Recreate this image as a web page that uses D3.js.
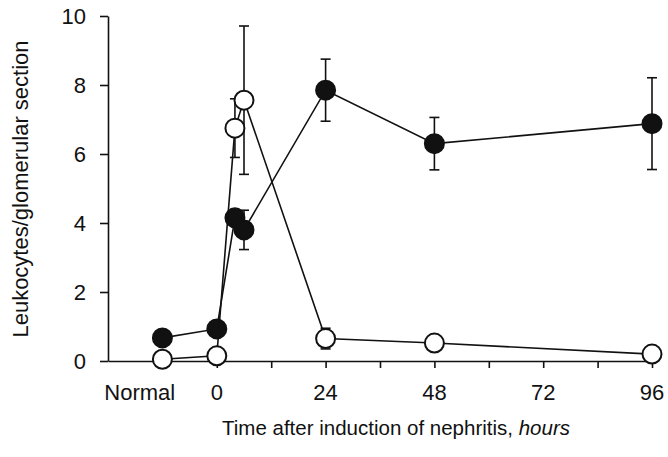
<!DOCTYPE html>
<html>
<head>
<meta charset="utf-8">
<script src="https://cdn.jsdelivr.net/npm/d3@7"></script>
<style>
  body { margin: 0; background: #fff; }
  svg { display: block; }
  .axis path, .axis line { stroke: #111; stroke-width: 1.6; }
  .axis text { font-family: 'Liberation Sans', Arial, sans-serif; font-size: 22px; fill: #111; }
  .title { font-family: 'Liberation Sans', Arial, sans-serif; font-size: 22px; fill: #111; }
</style>
</head>
<body>
<svg id="chart" width="668" height="457"></svg>
<script>
// time points, Normal is drawn left of 0
const hours = [-12, 0, 4, 6, 24, 48, 96];
const filledMean = [0.67, 0.93, 4.15, 3.8, 7.85, 6.3, 6.88];
const filledErr = [null, null, null, 0.57, 0.9, 0.76, 1.33];
const openMean = [0.05, 0.15, 6.75, 7.56, 0.65, 0.52, 0.2];
const openErr = [null, null, 0.85, 2.15, 0.3, null, null];

const xTickHours = [0, 12, 24, 36, 48, 60, 72, 84, 96];
const xLabelHours = [-17, 0, 24, 48, 72, 96];
const xLabels = ['Normal', '0', '24', '48', '72', '96'];
const yTicks = [0, 2, 4, 6, 8, 10];

const svg = d3.select('#chart');

const x = d3.scaleLinear().domain([-24, 96]).range([108, 652]);
const y = d3.scaleLinear().domain([0, 10]).range([361, 16]);

// axes
svg.append('g')
  .attr('class', 'axis')
  .attr('transform', `translate(0,${y(0)})`)
  .call(d3.axisBottom(x).tickValues(xTickHours).tickSize(7).tickSizeOuter(0).tickFormat(''));

svg.append('g')
  .attr('class', 'axis')
  .attr('transform', `translate(${x(-24)},0)`)
  .call(d3.axisLeft(y).tickValues(yTicks).tickSize(8).tickSizeOuter(0).tickPadding(14));

svg.append('g')
  .attr('class', 'axis')
  .selectAll('text')
  .data(xLabels)
  .join('text')
    .attr('x', (d, i) => x(xLabelHours[i]))
    .attr('y', 400)
    .attr('text-anchor', 'middle')
    .text(d => d);

// titles
svg.append('text')
  .attr('class', 'title')
  .attr('x', 396)
  .attr('y', 435)
  .attr('text-anchor', 'middle')
  .style('font-size', '20.5px')
  .html('Time after induction of nephritis, <tspan font-style="italic">hours</tspan>');

svg.append('text')
  .attr('class', 'title')
  .attr('transform', 'translate(28,189)rotate(-90)')
  .attr('text-anchor', 'middle')
  .text('Leukocytes/glomerular section');

function drawSeries(means, errs, fill){
  const pts = hours.map((h, i) => ({h: h, v: means[i], e: errs[i]}));
  const g = svg.append('g');

  const bars = g.selectAll('.err')
    .data(pts.filter(d => d.e != null))
    .join('g')
    .attr('stroke', '#111')
    .attr('stroke-width', 1.6);
  bars.append('line')
    .attr('x1', d => x(d.h)).attr('x2', d => x(d.h))
    .attr('y1', d => y(d.v - d.e)).attr('y2', d => y(d.v + d.e));
  bars.append('line')
    .attr('x1', d => x(d.h) - 5).attr('x2', d => x(d.h) + 5)
    .attr('y1', d => y(d.v + d.e)).attr('y2', d => y(d.v + d.e));
  bars.append('line')
    .attr('x1', d => x(d.h) - 5).attr('x2', d => x(d.h) + 5)
    .attr('y1', d => y(d.v - d.e)).attr('y2', d => y(d.v - d.e));

  const line = d3.line().x(d => x(d.h)).y(d => y(d.v));
  g.append('path')
    .attr('d', line(pts))
    .attr('fill', 'none')
    .attr('stroke', '#111')
    .attr('stroke-width', 1.6);

  g.selectAll('circle')
    .data(pts)
    .join('circle')
    .attr('cx', d => x(d.h))
    .attr('cy', d => y(d.v))
    .attr('r', 9.5)
    .attr('fill', fill)
    .attr('stroke', '#111')
    .attr('stroke-width', 2);
}

drawSeries(filledMean, filledErr, '#111');
drawSeries(openMean, openErr, '#fff');
</script>
</body>
</html>
